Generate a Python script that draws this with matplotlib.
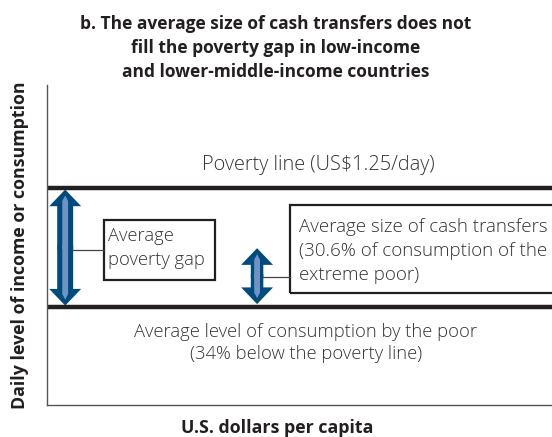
import matplotlib
matplotlib.use("Agg")
import matplotlib.pyplot as plt
from matplotlib.patches import Rectangle

plt.rcParams['font.family'] = ['Open Sans', 'DejaVu Sans']

W, H = 552, 437
fig = plt.figure(figsize=(W / 100, H / 100), dpi=100)

# ---- schematic data (fraction of the vertical axis) ----
title = ("b. The average size of cash transfers does not\n"
         "fill the poverty gap in low-income\n"
         "and lower-middle-income countries")
x_label = "U.S. dollars per capita"
y_label = "Daily level of income or consumption"
line_labels = ["Poverty line (US$1.25/day)",
               "Average level of consumption by the poor\n(34% below the poverty line)"]
poverty_line = 0.678
consumption_level = 0.306
transfer_top = 0.49
gap_arrow_x = 0.036
transfer_arrow_x = 0.416
box_labels = ["Average\npoverty gap",
              "Average size of cash transfers\n(30.6% of consumption of the\nextreme poor)"]

DARK = "#231f20"
BLUE = "#004b7e"
LIGHT = "#6f94c4"
TXT = "#333333"
BODY_W = "light"

ax = fig.add_axes([47 / W, 32 / H, 1 - 47 / W, 320 / H])
ax.set_xlim(0, 1)
ax.set_ylim(0, 1)
ax.set_xticks([])
ax.set_yticks([])
for s in ("top", "right"):
    ax.spines[s].set_visible(False)
for s in ("left", "bottom"):
    ax.spines[s].set_color("#555555")
    ax.spines[s].set_linewidth(1.0)

for lv in (poverty_line, consumption_level):
    ax.axhline(lv, color=DARK, lw=3.2, solid_capstyle="butt", clip_on=False)

PX = 1 / 320  # one pixel in y data units


def double_arrow(x, y0, y1, head_w, tail_w, head_l):
    mid = (y0 + y1) / 2
    for end, start in ((y1, mid - 2 * PX), (y0, mid + 2 * PX)):
        ax.annotate("", xy=(x, end), xytext=(x, start),
                    arrowprops=dict(arrowstyle=f"simple,head_length={head_l},head_width={head_w},tail_width={tail_w}",
                                    color=BLUE, lw=0, shrinkA=0, shrinkB=0, mutation_scale=1))
    for end, start in ((y1 - 6 * PX, mid - 2 * PX), (y0 + 6 * PX, mid + 2 * PX)):
        ax.annotate("", xy=(x, end), xytext=(x, start),
                    arrowprops=dict(arrowstyle="simple,head_length=4,head_width=4.2,tail_width=4.2",
                                    color=LIGHT, lw=0, shrinkA=0, shrinkB=0, mutation_scale=1))


double_arrow(gap_arrow_x, consumption_level + 1.5 * PX, poverty_line - 1.5 * PX, 23, 11.5, 12)
double_arrow(transfer_arrow_x, consumption_level + 3 * PX, transfer_top, 23, 9, 12)


def fx(x):
    return x / W


def fy(y):
    return 1 - y / H


fig.add_artist(Rectangle((fx(104), fy(280)), fx(215) - fx(104), fy(220) - fy(280),
                         transform=fig.transFigure, fill=False, ec=DARK, lw=1.6))
fig.add_artist(Rectangle((fx(290), fy(293)), fx(570) - fx(290), fy(205) - fy(293),
                         transform=fig.transFigure, fill=False, ec=DARK, lw=1.6, clip_on=False))
fig.add_artist(plt.Line2D([fx(73), fx(104)], [fy(250), fy(250)], color="#444444", lw=0.9))
fig.add_artist(plt.Line2D([fx(263), fx(290)], [fy(277), fy(277)], color="#444444", lw=0.9))

fig.text(fx(108), fy(248), box_labels[0], ha="left", va="center", fontsize=13.2,
         color=TXT, linespacing=1.38, fontweight=BODY_W)
fig.text(fx(299), fy(251), box_labels[1], ha="left", va="center", fontsize=13.5,
         color=TXT, linespacing=1.4, fontweight=BODY_W)

fig.text(fx(318), fy(165), line_labels[0], ha="center", va="center", fontsize=14.3,
         color=TXT, fontweight=BODY_W)
fig.text(fx(306), fy(343), line_labels[1], ha="center", va="center", fontsize=13.2,
         color=TXT, linespacing=1.32, fontweight=BODY_W)

fig.text(0.5, fy(48), title, ha="center", va="center", fontsize=12.5, fontweight="bold",
         color=DARK, linespacing=1.42)
fig.text(fx(277), fy(428), x_label, ha="center", va="center", fontsize=12.8,
         fontweight="bold", color=DARK)
fig.text(fx(20), fy(245), y_label, ha="center", va="center", rotation=90, fontsize=12.8,
         fontweight="bold", color=DARK)

fig.savefig("out.png", dpi=100)
